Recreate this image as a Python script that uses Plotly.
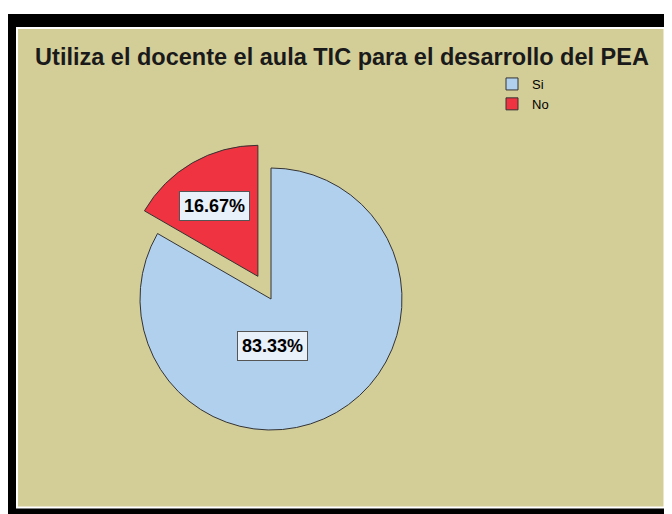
import plotly.graph_objects as go

W, H = 672, 514
OFF = 8  # page body margin around the plot div

title = "Utiliza el docente el aula TIC para el desarrollo del PEA"
categories = ["Si", "No"]
percentages = [83.33, 16.67]
slice_colors = ["#B1D0EE", "#EF3340"]
pulls = [0, 0.2]


def px(x):
    # page pixel -> paper fraction
    return (x - OFF) / W


def py(y):
    return 1 - (y - OFF) / H


fig = go.Figure()

# pie centre ~ (271, 299) px, radius ~131 px; domain enlarged by pull
cx, cy, r = 271, 299, 131
half = r * (1 + max(pulls))
fig.add_trace(
    go.Pie(
        labels=categories,
        values=percentages,
        sort=False,
        direction="clockwise",
        rotation=0,
        pull=pulls,
        marker=dict(colors=slice_colors, line=dict(color="#333333", width=1)),
        textinfo="none",
        hoverinfo="label+percent",
        domain=dict(x=[px(cx - half), px(cx + half)], y=[py(cy + half), py(cy - half)]),
    )
)

# frame: black outer, thin white line, khaki panel
fig.add_shape(type="rect", xref="paper", yref="paper", layer="below",
              x0=px(0), x1=px(700), y0=py(600), y1=py(14),
              fillcolor="black", line=dict(width=0))
fig.add_shape(type="rect", xref="paper", yref="paper", layer="below",
              x0=px(16), x1=px(665.5), y0=py(508.5), y1=py(27),
              fillcolor="white", line=dict(width=0))
fig.add_shape(type="rect", xref="paper", yref="paper", layer="below",
              x0=px(18), x1=px(663.5), y0=py(506.5), y1=py(29),
              fillcolor="#D3CD98", line=dict(width=0))

# percentage labels in boxes
label_pos = [(272, 346), (214, 206)]
for pct, (lx, ly) in zip(percentages, label_pos):
    fig.add_annotation(
        x=px(lx), y=py(ly), xref="paper", yref="paper",
        xanchor="center", yanchor="middle",
        text=f"<b>{pct:.2f}%</b>", showarrow=False,
        font=dict(family="Liberation Sans, Arial", size=18, color="black"),
        bgcolor="#E8F0FA", bordercolor="#555555", borderwidth=1, borderpad=4,
    )

fig.update_layout(
    width=W,
    height=H,
    margin=dict(l=0, r=0, t=0, b=0),
    paper_bgcolor="white",
    plot_bgcolor="rgba(0,0,0,0)",
    title=dict(
        text=f"<b>{title}</b>",
        x=px(342), xanchor="center",
        y=py(57), yanchor="middle",
        font=dict(family="Liberation Sans, Arial", size=23.5, color="#1a1a1a"),
    ),
    legend=dict(
        x=px(492), y=py(69), xanchor="left", yanchor="top",
        bgcolor="rgba(0,0,0,0)",
        font=dict(family="Liberation Sans, Arial", size=13, color="black"),
        tracegroupgap=0,
    ),
    showlegend=True,
)

fig.write_html("out.html")
